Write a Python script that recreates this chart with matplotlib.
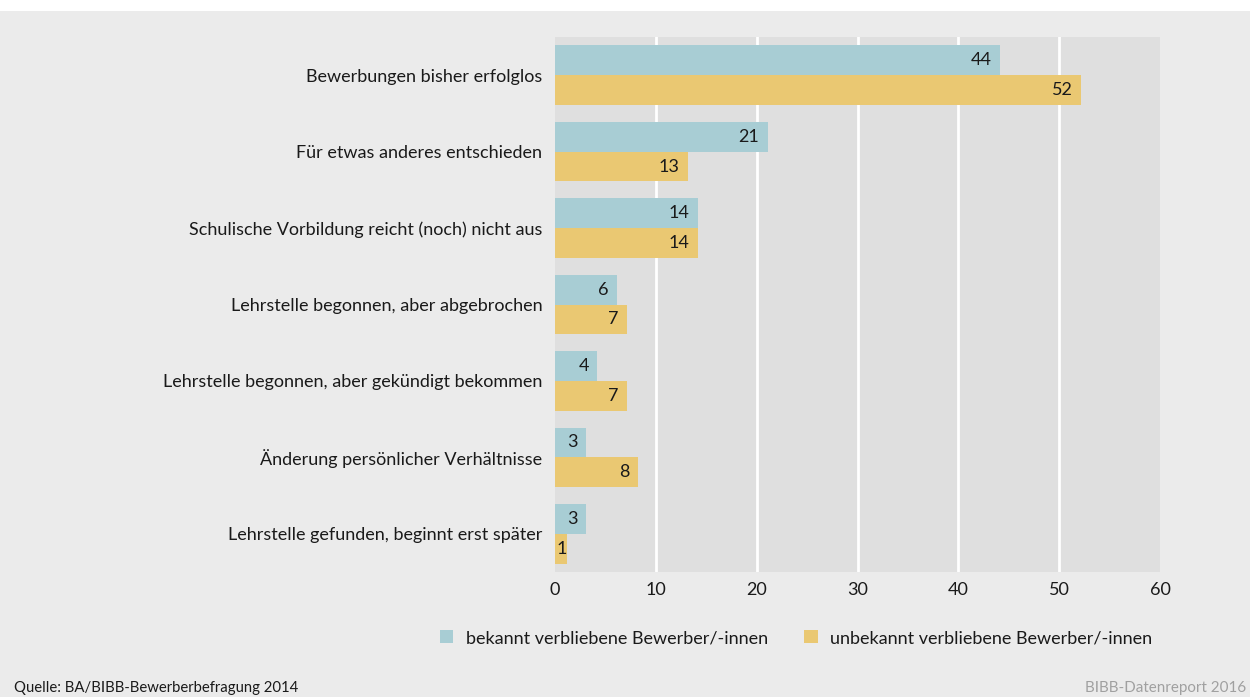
import numpy as np
import matplotlib.pyplot as plt
from matplotlib.patches import Rectangle

# datos (de arriba hacia abajo)
categorias = [
    'Bewerbungen bisher erfolglos',
    'Für etwas anderes entschieden',
    'Schulische Vorbildung reicht (noch) nicht aus',
    'Lehrstelle begonnen, aber abgebrochen',
    'Lehrstelle begonnen, aber gekündigt bekommen',
    'Änderung persönlicher Verhältnisse',
    'Lehrstelle gefunden, beginnt erst später',
]
bekannt = [44.1, 21.1, 14.2, 6.1, 4.2, 3.1, 3.1]
unbekannt = [52.2, 13.2, 14.2, 7.1, 7.1, 8.2, 1.2]
series_labels = ['bekannt verbliebene Bewerber/-innen',
                 'unbekannt verbliebene Bewerber/-innen']
xticks = [0, 10, 20, 30, 40, 50, 60]

c_blue = '#a8cdd4'
c_orange = '#eac872'
bg = '#ebebeb'
plot_bg = '#dfdfdf'
txt = '#1a1a1a'

plt.rcParams['font.family'] = ['Lato', 'DejaVu Sans']
fs = 13

fig = plt.figure(figsize=(12.5, 6.97), dpi=100)
fig.patch.set_facecolor(bg)
# franja blanca arriba
fig.patches.append(Rectangle((0, 1 - 11 / 697), 1, 11 / 697, transform=fig.transFigure,
                             facecolor='white', edgecolor='none', zorder=0))

ax = fig.add_axes([555 / 1250, 1 - 572 / 697, 605 / 1250, 535 / 697])
ax.set_facecolor(plot_bg)

y = np.arange(len(categorias))
h = 0.39
b1 = ax.barh(y - h / 2, bekannt, height=h, color=c_blue, label=series_labels[0], zorder=2)
b2 = ax.barh(y + h / 2, unbekannt, height=h, color=c_orange, label=series_labels[1], zorder=2)

for bars, vals in ((b1, bekannt), (b2, unbekannt)):
    labels = ax.bar_label(bars, fmt='%.0f', padding=-6, fontsize=fs, color=txt)
    for t, v in zip(labels, vals):
        if v < 2:
            # barra muy corta: etiqueta al inicio de la barra
            t.xy = (0, t.xy[1])
            t.xyann = (1, 0)
            t.set_ha('left')
        else:
            t.set_ha('right')

# lineas blancas solo en los ticks interiores
for xv in xticks[1:-1]:
    ax.axvline(xv, color='white', linewidth=2, zorder=1)

ax.set_ylim(len(categorias) - 0.5, -0.5)
ax.set_xlim(0, 60)
ax.set_yticks(y)
ax.set_yticklabels(categorias)
ax.set_xticks(xticks)
ax.tick_params(length=0, labelsize=fs, colors=txt)
ax.tick_params(axis='y', pad=9)
ax.tick_params(axis='x', pad=7)
for s in ax.spines.values():
    s.set_visible(False)

fig.legend(handles=[b1, b2], loc='center', bbox_to_anchor=(796 / 1250, 1 - 638 / 697),
           ncol=2, frameon=False, handlelength=0.75, handleheight=0.75,
           handletextpad=0.7, columnspacing=2.0, fontsize=fs, labelcolor=txt)

fig.text(14 / 1250, 1 - 688 / 697, 'Quelle: BA/BIBB-Bewerberbefragung 2014',
         fontsize=10.7, va='center', ha='left', color=txt)
fig.text(1246 / 1250, 1 - 688 / 697, 'BIBB-Datenreport 2016',
         fontsize=10.9, va='center', ha='right', color='#a0a0a0')

fig.savefig('out.png', dpi=100, facecolor=fig.get_facecolor())
